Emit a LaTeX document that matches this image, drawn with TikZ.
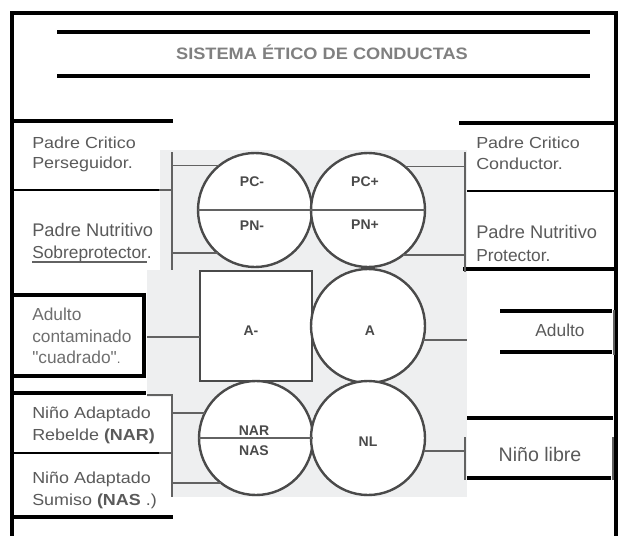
\documentclass[tikz,border=0pt]{standalone}
\usepackage{fontspec}
\setmainfont{Liberation Sans}
\newfontfamily\widefont[FakeStretch=1.12]{Liberation Sans}
\newfontfamily\titlefont[FakeStretch=1.1]{Liberation Sans}
\definecolor{txt}{HTML}{5A5A5A}
\definecolor{txtl}{HTML}{6E6E6E}
\definecolor{ttl}{HTML}{808080}
\definecolor{bgc}{HTML}{EEEFF0}
\definecolor{lnc}{HTML}{626262}
\definecolor{circc}{HTML}{4A4A4A}
\newsavebox\ulbox
\newcommand\thickul[1]{\sbox\ulbox{#1}\rlap{\textcolor{lnc}{\rule[-3.5pt]{\wd\ulbox}{1.5pt}}}\usebox\ulbox}
\begin{document}
\begin{tikzpicture}[x=0.75pt,y=-0.75pt,
  heavy/.style={line width=3pt,black},
  midl/.style={line width=2.3pt,black},
  thinl/.style={line width=1.1pt,black},
  con/.style={line width=1.1pt,draw=lnc},
  brk/.style={line width=2pt,draw=lnc},
  cir/.style={circle,draw=circc,line width=1.8pt,fill=white,minimum size=85.5pt,inner sep=0pt,outer sep=0pt},
  sqr/.style={rectangle,draw=circc,line width=1.8pt,fill=white,minimum width=84pt,minimum height=82.5pt,inner sep=0pt,outer sep=0pt},
  divl/.style={line width=1.2pt,draw=lnc},
  cl/.style={inner sep=0pt,text=circc,font=\fontsize{10.5}{12}\selectfont\bfseries},
  lbl/.style={anchor=base west,inner sep=0pt,text=txt},
  crit/.style={lbl,font=\widefont\fontsize{12}{14}\selectfont},
  nutone/.style={lbl,font=\fontsize{13.7}{16}\selectfont},
  nuttwo/.style={lbl,font=\fontsize{13}{15}\selectfont},
  adc/.style={lbl,text=txtl,font=\fontsize{13}{15}\selectfont},
  nino/.style={lbl,font=\widefont\fontsize{12}{14}\selectfont},
]
\useasboundingbox (0,0) rectangle (620,536);
\fill[white] (0,0) rectangle (620,536);
% background of scanned diagram
\fill[bgc] (147,150) rectangle (468,497);
\fill[white] (14,123) rectangle (160,270);
\fill[white] (14,397) rectangle (171,515);
\fill[white] (467,123) rectangle (615,536);
% outer frame
\draw[heavy] (10,13) -- (618,13);
\draw[heavy] (12,11.5) -- (12,536);
\draw[line width=2.3pt] (616,11.5) -- (616,536);
% title
\draw[midl] (57,32) -- (590,32);
\draw[midl] (57,76) -- (590,76);
\node[text=ttl,font=\titlefont\fontsize{12.4}{14}\selectfont\bfseries,inner sep=0pt] (title) at (322,52) {SISTEMA ÉTICO DE CONDUCTAS};
% left frame lines
\draw[heavy] (12,121) -- (173,121);
\draw[thinl] (12,190) -- (159,190);
\draw[con] (159,190) -- (172,190);
\draw[heavy] (12,295) -- (144,295) -- (144,376) -- (12,376);
\draw[heavy] (12,393) -- (146,393);
\draw[thinl] (12,453) -- (159,453);
\draw[con] (159,453) -- (172,453);
\draw[heavy] (12,517) -- (173,517);
% right frame lines
\draw[heavy] (459,123) -- (617,123);
\draw[thinl] (467,191) -- (617,191);
\draw[heavy] (463,269) -- (617,269);
\draw[midl] (500,311) -- (612,311);
\draw[midl] (500,352) -- (612,352);
\draw[brk] (614,310) -- (614,355);
\draw[heavy] (467,418) -- (613,418);
\draw[heavy] (467,478) -- (611,478);
\draw[brk] (613,437) -- (613,480);
% ego states
\node[cir] (pcm) at (255,210) {};
\node[cir] (pcp) at (368,210) {};
\node[sqr] (am) at (256,326) {};
\node[cir] (ad) at (368,326) {};
\node[cir] (na) at (256,438) {};
\node[cir] (nl) at (368,438) {};
\draw[divl] (pcm.west) -- (pcm.east);
\draw[divl] (pcp.west) -- (pcp.east);
\draw[divl] (na.west) -- (na.east);
\node[cl] (tpcm) at (252,182) {PC-};
\node[cl] (tpnm) at (252,226) {PN-};
\node[cl] (tpcp) at (365,182) {PC+};
\node[cl] (tpnp) at (365,225) {PN+};
\node[cl] (tam) at (251,331) {A-};
\node[cl] (tad) at (370,331) {A};
\node[cl] (tnar) at (254,431) {NAR};
\node[cl] (tnas) at (254,451) {NAS};
\node[cl] (tnl) at (368,442) {NL};
% brackets and connectors
\coordinate (bla) at (172,152);
\coordinate (blb) at (172,270);
\draw[brk] (bla) -- (blb);
\draw[con] (pcm.129.5) -- (pcm.129.5 -| bla);
\draw[con] (pcm.229) -- (pcm.229 -| bla);
\coordinate (bra) at (465,152);
\coordinate (brb) at (465,272);
\draw[brk] (bra) -- (brb);
\draw[con] (pcp.50.5) -- (pcp.50.5 -| bra);
\draw[con] (pcp.308) -- (pcp.308 -| bra);
\coordinate (al) at (147,337);
\draw[con] (al) -- (al -| am.west);
\coordinate (ar) at (467,340);
\draw[con] (ad.346) -- (ad.346 -| ar);
\coordinate (bn0) at (147,395);
\coordinate (bn1) at (172,395);
\coordinate (bn2) at (172,497);
\draw[brk] (bn0) -- (bn1) -- (bn2);
\draw[con] (na.154) -- (na.154 -| bn1);
\draw[con] (na.232) -- (na.232 -| bn1);
\coordinate (nra) at (465,437);
\coordinate (nrb) at (465,480);
\draw[brk] (nra) -- (nrb);
\draw[con] (nl.347) -- (nl.347 -| nra);
% left texts
\node[crit] (lpca) at (32,148) {Padre Critico};
\node[crit] (lpcb) at (32,168) {Perseguidor.};
\node[nutone] (lpna) at (32,236) {Padre Nutritivo};
\node[nuttwo] (lpnb) at (32,258) {\thickul{Sobreprotector}.};
\node[adc] (laa) at (32,320) {Adulto};
\node[adc] (lab) at (32,342) {contaminado};
\node[adc] (lac) at (32,363) {\textquotedbl cuadrado\textquotedbl{\fontsize{10}{12}\selectfont.}};
\node[nino] (lna) at (32,418) {Niño Adaptado};
\node[nino] (lnb) at (32,440) {Rebelde \textbf{(NAR)}};
\node[nino] (lnc) at (32,483) {Niño Adaptado};
\node[nino] (lnd) at (32,505) {Sumiso \textbf{(NAS} .)};
% right texts
\node[crit] (rpca) at (476,148) {Padre Critico};
\node[crit] (rpcb) at (476,169) {Conductor.};
\node[nutone] (rpna) at (476,238) {Padre Nutritivo};
\node[nuttwo] (rpnb) at (476,261) {Protector.};
\node[anchor=base,inner sep=0pt,text=txt,font=\fontsize{13}{15}\selectfont] (rad) at (560,336) {Adulto};
\node[anchor=base,inner sep=0pt,text=txt,font=\fontsize{14.7}{17}\selectfont] (rnl) at (540,461) {Niño libre};
\end{tikzpicture}
\end{document}
